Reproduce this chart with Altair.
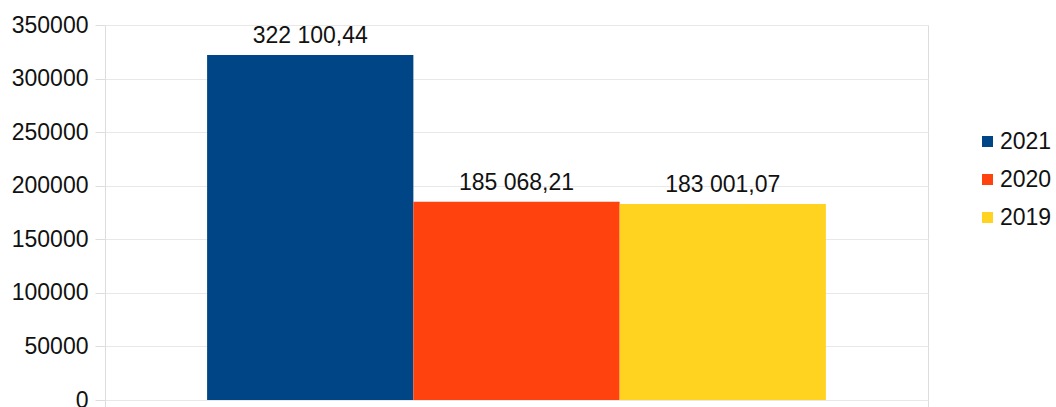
import altair as alt
import pandas as pd

years = ["2021", "2020", "2019"]
values = [322100.44, 185068.21, 183001.07]
colors = ["#004586", "#ff420e", "#ffd320"]
y_ticks = [0, 50000, 100000, 150000, 200000, 250000, 300000, 350000]


def fmt(v):
    return f"{v:,.2f}".replace(",", " ").replace(".", ",")


df = pd.DataFrame({
    "group": ["all"] * len(years),
    "year": years,
    "value": values,
    "label": [fmt(v) for v in values],
})

font = "Liberation Sans"
fs = 23

x = alt.X(
    "group:N",
    title=None,
    scale=alt.Scale(paddingInner=0, paddingOuter=0),
    axis=alt.Axis(labels=False, domain=False, grid=False, ticks=True,
                  tickBand="extent", tickSize=7, tickColor="#dddddd", title=None),
)
xo = alt.XOffset("year:N", sort=years,
                 scale=alt.Scale(paddingInner=0, paddingOuter=0.495))
y = alt.Y(
    "value:Q",
    title=None,
    scale=alt.Scale(domain=[0, 350000], nice=False),
    axis=alt.Axis(values=y_ticks, format="d", domain=False, tickSize=10,
                  tickColor="#dddddd", gridColor="#e8e8e8", labelPadding=7,
                  labelFontSize=fs, labelColor="#111111", labelFont=font),
)

bars = alt.Chart(df).mark_bar().encode(
    x=x,
    xOffset=xo,
    y=y,
    color=alt.Color(
        "year:N",
        sort=years,
        scale=alt.Scale(domain=years, range=colors),
        legend=alt.Legend(
            title=None, orient="none", legendX=871, legendY=105,
            symbolType="square", symbolSize=121, symbolStrokeWidth=0,
            labelFontSize=fs, labelFont=font, labelColor="#111111",
            labelOffset=1, rowPadding=14, padding=0,
        ),
    ),
)

labels = alt.Chart(df).mark_text(
    baseline="alphabetic", dy=-12, fontSize=fs, font=font, color="#111111"
).encode(
    x=x,
    xOffset=xo,
    y=alt.Y("value:Q", scale=alt.Scale(domain=[0, 350000], nice=False)),
    text="label:N",
)

chart = (bars + labels).properties(
    width=823,
    height=375,
    padding={"left": 105, "top": 25, "right": 128, "bottom": 7},
    autosize=alt.AutoSizeParams(type="none"),
    background="white",
).configure_view(stroke="#dddddd", strokeWidth=1).configure_axis(labelFont=font)

chart.save("out.html", embed_options={"renderer": "svg", "actions": False})
